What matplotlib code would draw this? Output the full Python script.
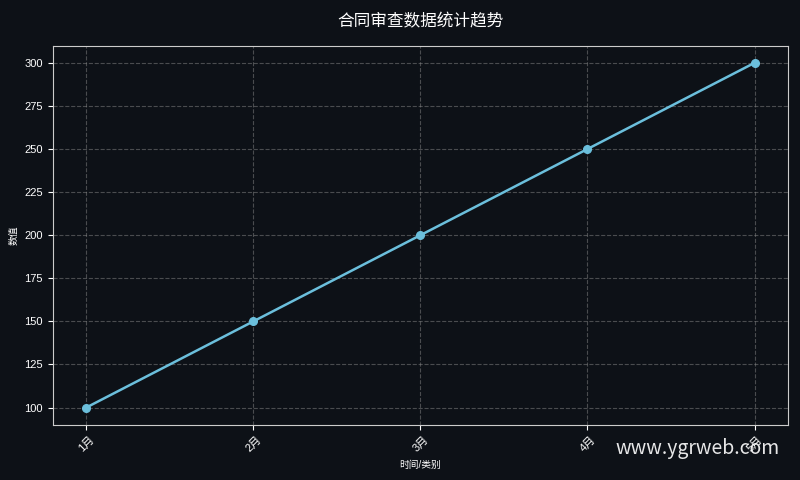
import matplotlib
matplotlib.use("Agg")
import matplotlib.pyplot as plt

plt.rcParams['font.family'] = ['Liberation Sans', 'Noto Sans CJK SC', 'DejaVu Sans']
plt.rcParams['axes.unicode_minus'] = False

months = ['1月', '2月', '3月', '4月', '5月']
values = [100, 150, 200, 250, 300]

bg = '#0d1117'
fig, ax = plt.subplots(figsize=(8, 4.8), dpi=100)
fig.patch.set_facecolor(bg)
ax.set_facecolor(bg)

ax.plot(months, values, color='#6bbfdc', linewidth=1.8, marker='o', markersize=5.5)

ax.set_title('合同审查数据统计趋势', color='white', fontsize=12, pad=14)
ax.set_xlabel('时间/类别', color='white', fontsize=7)
ax.set_ylabel('数值', color='white', fontsize=7)
ax.tick_params(colors='white', labelsize=8)
plt.setp(ax.get_xticklabels(), rotation=45)
for s in ax.spines.values():
    s.set_color('#cccccc')
ax.grid(True, linestyle='--', color='#888888', alpha=0.5, linewidth=0.8)

# 水印
fig.text(0.975, 0.065, 'www.ygrweb.com', color='white', fontsize=14,
         ha='right', va='center', alpha=0.9, family='Noto Sans CJK SC')

plt.subplots_adjust(left=0.066, right=0.985, top=0.905, bottom=0.115)
plt.savefig('out.png', facecolor=bg)
